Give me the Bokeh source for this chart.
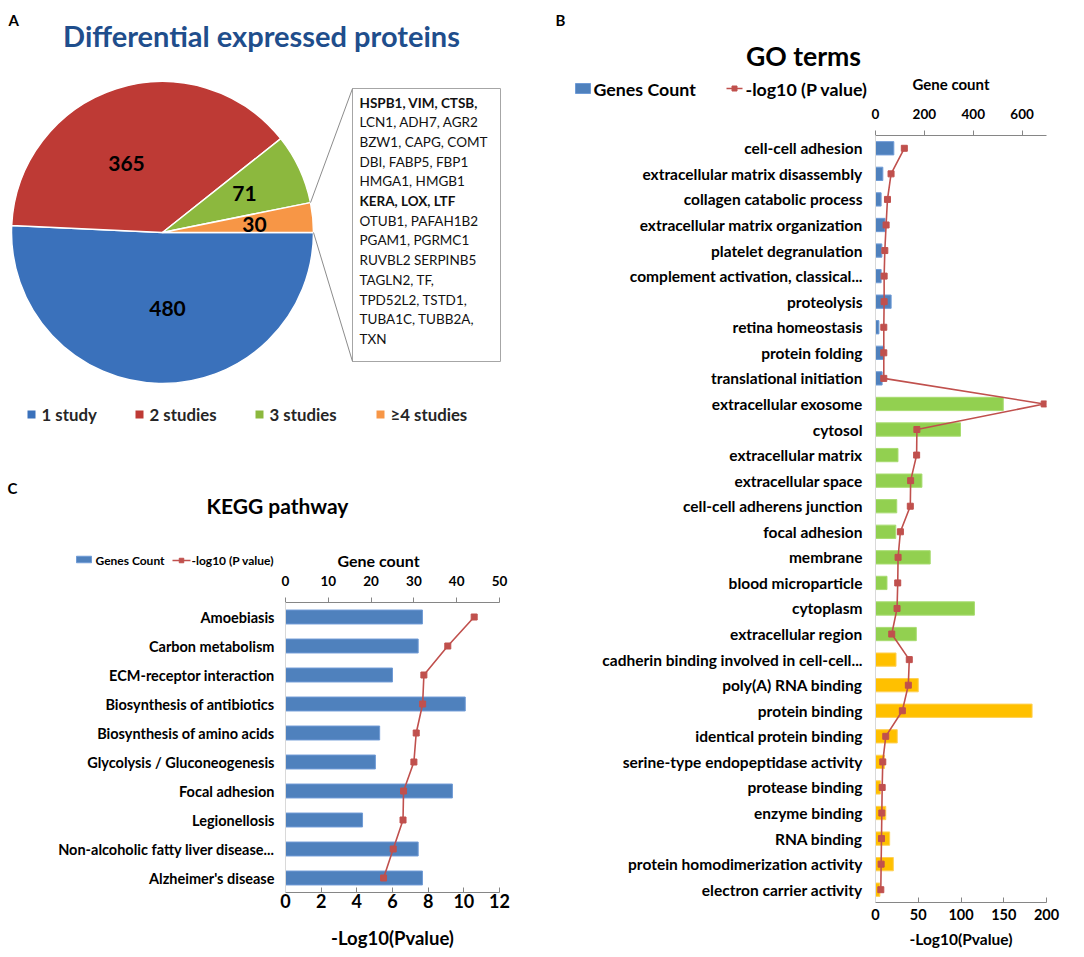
import numpy as np
from bokeh.plotting import figure
from bokeh.models import Range1d, FactorRange, LinearAxis, FixedTicker, ColumnDataSource
from bokeh.embed import file_html
from bokeh.resources import INLINE
from bokeh.core.properties import value

FONT = "Lato"

# ---------------- Panel A data ----------------
study_labels = ["1 study", "2 studies", "3 studies", "\u22654 studies"]
study_counts = [480, 365, 71, 30]
study_colors = ["#3a71bb", "#be3a35", "#8cb83e", "#f79646"]
gene_lines = ["HSPB1, VIM, CTSB,", "LCN1, ADH7, AGR2", "BZW1, CAPG, COMT",
              "DBI, FABP5, FBP1", "HMGA1, HMGB1", "KERA, LOX, LTF",
              "OTUB1, PAFAH1B2", "PGAM1, PGRMC1", "RUVBL2 SERPINB5",
              "TAGLN2, TF,", "TPD52L2, TSTD1,", "TUBA1C, TUBB2A,", "TXN"]
gene_bold = [True, False, False, False, False, True, False, False, False,
             False, False, False, False]

# ---------------- Panel B data ----------------
bp_terms = ["cell-cell adhesion", "extracellular matrix disassembly",
            "collagen catabolic process", "extracellular matrix organization",
            "platelet degranulation", "complement activation, classical...",
            "proteolysis", "retina homeostasis", "protein folding",
            "translational initiation"]
bp_counts = [75, 30, 23, 39, 26, 23, 64, 14, 34, 27]
bp_pvals = [33.7, 18.2, 14.0, 12.4, 10.9, 10.1, 10.1, 9.7, 9.7, 9.7]

cc_terms = ["extracellular exosome", "cytosol", "extracellular matrix",
            "extracellular space", "cell-cell adherens junction",
            "focal adhesion", "membrane", "blood microparticle", "cytoplasm",
            "extracellular region"]
cc_counts = [523, 348, 92, 190, 87, 83, 224, 47, 405, 167]
cc_pvals = [197.3, 48.4, 48.1, 41.1, 40.7, 29.1, 26.4, 26.0, 25.2, 19.0]

mf_terms = ["cadherin binding involved in cell-cell...", "poly(A) RNA binding",
            "protein binding", "identical protein binding",
            "serine-type endopeptidase activity", "protease binding",
            "enzyme binding", "RNA binding",
            "protein homodimerization activity", "electron carrier activity"]
mf_counts = [84, 175, 641, 89, 37, 20, 42, 58, 73, 18]
mf_pvals = [39.5, 38.4, 31.4, 12.0, 8.5, 7.8, 7.4, 7.0, 6.6, 6.2]

go_count_ticks = [0, 200, 400, 600]
go_p_ticks = [0, 50, 100, 150, 200]

# ---------------- Panel C data ----------------
kegg_terms = ["Amoebiasis", "Carbon metabolism", "ECM-receptor interaction",
              "Biosynthesis of antibiotics", "Biosynthesis of amino acids",
              "Glycolysis / Gluconeogenesis", "Focal adhesion", "Legionellosis",
              "Non-alcoholic fatty liver disease...", "Alzheimer's disease"]
kegg_counts = [32, 31, 25, 42, 22, 21, 39, 18, 31, 32]
kegg_pvals = [10.58, 9.10, 7.76, 7.69, 7.33, 7.20, 6.62, 6.59, 6.04, 5.50]

kegg_count_ticks = [0, 10, 20, 30, 40, 50]
kegg_p_ticks = [0, 2, 4, 6, 8, 10, 12]

BAR_BLUE, BAR_BLUE_LINE = "#4f81bd", "#6f9bd6"
BAR_GREEN, BAR_GREEN_LINE = "#92d050", "#a8dc70"
BAR_ORANGE, BAR_ORANGE_LINE = "#ffc000", "#ffd055"
LINE_RED = "#c0504d"
AXIS_GRAY = "#868686"


def place(left, top):
    return {"position": "absolute", "left": f"{left}px", "top": f"{top}px"}


def make_bar_panel(terms, width, height, left, top, borders, p_max, count_max,
                   count_ticks, p_ticks, fonts, stand):
    bl, br, bt, bb = borders
    p = figure(width=width, height=height, x_range=Range1d(0, p_max),
               y_range=FactorRange(factors=list(reversed(terms)), range_padding=0),
               x_axis_location=None, output_backend="svg", toolbar_location=None,
               min_border_left=bl, min_border_right=br, min_border_top=bt,
               min_border_bottom=bb, styles=place(left, top))
    p.extra_x_ranges = {"gene": Range1d(0, count_max)}
    p.grid.visible = False
    p.outline_line_color = None
    top_ax = LinearAxis(x_range_name="gene", ticker=FixedTicker(ticks=count_ticks))
    bot_ax = LinearAxis(ticker=FixedTicker(ticks=p_ticks), axis_label="-Log10(Pvalue)")
    p.add_layout(top_ax, "above")
    p.add_layout(bot_ax, "below")
    for ax in (top_ax, bot_ax):
        ax.axis_line_color = AXIS_GRAY
        ax.major_tick_line_color = AXIS_GRAY
        ax.minor_tick_line_color = None
        ax.major_label_text_font = FONT
        ax.major_label_text_font_style = "bold"
        ax.major_label_text_color = "black"
        ax.axis_label_text_font = FONT
        ax.axis_label_text_font_style = "bold"
        ax.axis_label_text_color = "black"
    top_ax.major_tick_out, top_ax.major_tick_in = 5, 0
    bot_ax.major_tick_out, bot_ax.major_tick_in = 0, 5
    ttop, tbot, lbot, yfont = fonts
    st_top, st_bot, lst_bot, ystand = stand
    top_ax.major_label_text_font_size = ttop
    bot_ax.major_label_text_font_size = tbot
    bot_ax.axis_label_text_font_size = lbot
    top_ax.major_label_standoff, bot_ax.major_label_standoff = st_top, st_bot
    bot_ax.axis_label_standoff = lst_bot
    ya = p.yaxis[0]
    ya.axis_line_color = "#d9d9d9"
    ya.major_tick_line_color = None
    ya.minor_tick_line_color = None
    ya.major_tick_out = 0
    ya.major_tick_in = 0
    ya.major_label_text_font = FONT
    ya.major_label_text_font_style = "bold"
    ya.major_label_text_font_size = yfont
    ya.major_label_text_color = "black"
    ya.major_label_standoff = ystand
    return p


# =============== Panel C (KEGG) ===============
pC = make_bar_panel(kegg_terms, 540, 487, 0, 470, (285, 41, 132, 65), 12, 50,
                    kegg_count_ticks, kegg_p_ticks,
                    ("13.5px", "18px", "18.5px", "14.5px"),
                    (12, 1, 16, 11))
pC.hbar(y=kegg_terms, left=0, right=kegg_counts, height=0.48, x_range_name="gene",
        fill_color=BAR_BLUE, line_color=BAR_BLUE_LINE, line_width=1)
pC.line(x=kegg_pvals, y=kegg_terms, line_color=LINE_RED, line_width=1.6)
pC.scatter(x=kegg_pvals, y=kegg_terms, marker="square", size=6,
           fill_color=LINE_RED, line_color=LINE_RED)

# =============== Panel B (GO) ===============
go_terms = bp_terms + cc_terms + mf_terms
go_pvals = bp_pvals + cc_pvals + mf_pvals
pB = make_bar_panel(go_terms, 544, 957, 540, 0, (335, 38, 135, 55), 200, 700,
                    go_count_ticks, go_p_ticks,
                    ("13.5px", "14.5px", "15.5px", "15.5px"),
                    (12, 6, 7, 13))
for terms, counts, fc, lc in ((bp_terms, bp_counts, BAR_BLUE, BAR_BLUE_LINE),
                              (cc_terms, cc_counts, BAR_GREEN, BAR_GREEN_LINE),
                              (mf_terms, mf_counts, BAR_ORANGE, BAR_ORANGE_LINE)):
    pB.hbar(y=terms, left=0, right=counts, height=0.52, x_range_name="gene",
            fill_color=fc, line_color=lc, line_width=1)
pB.line(x=go_pvals, y=go_terms, line_color=LINE_RED, line_width=1.6)
pB.scatter(x=go_pvals, y=go_terms, marker="square", size=6,
           fill_color=LINE_RED, line_color=LINE_RED)

# =============== Overlay: panel A, titles, legends ===============
pO = figure(width=1084, height=957, x_range=Range1d(0, 1084), y_range=Range1d(-957, 0),
            output_backend="svg", toolbar_location=None, min_border=0,
            x_axis_location=None, y_axis_location=None, styles=place(0, 0))
pO.grid.visible = False
pO.outline_line_color = None
pO.background_fill_alpha = 0
pO.border_fill_alpha = 0


def txt(x, y, s, size, bold=True, color="black", align="left"):
    pO.text(x=[x], y=[-y], text=[s], text_font=value(FONT),
            text_font_style="bold" if bold else "normal", text_font_size=size,
            text_color=color, text_align=align, text_baseline="middle")


# pie
cx, cy, r = 162, -232, 151
total = float(sum(study_counts))
fr = np.array(study_counts) / total * 2 * np.pi
cum = np.cumsum(fr)
src = ColumnDataSource(dict(start=2 * np.pi - cum, end=2 * np.pi - (cum - fr),
                            color=study_colors))
pO.wedge(x=cx, y=cy, radius=r, start_angle="start", end_angle="end",
         fill_color="color", line_color="white", line_width=1.5, source=src)
val_pos = [(167, 308), (126, 163), (244, 193), (254, 224)]
for (vx, vy), v in zip(val_pos, study_counts):
    txt(vx, vy, str(v), "21px", align="center")

# gene box with connectors from the smallest slice
pO.quad(left=352, right=500, top=-88, bottom=-361, fill_color="white",
        line_color="#a6a6a6", line_width=1)
a_top = fr[3]
pO.segment(x0=[352, 352], y0=[-88, -361],
           x1=[cx + r * np.cos(a_top), cx + r], y1=[cy + r * np.sin(a_top), cy],
           line_color="#8c8c8c", line_width=1)
for i, (s, b) in enumerate(zip(gene_lines, gene_bold)):
    txt(359, 102.3 + 19.67 * i, s, "13.5px", bold=b, color="#111111")

txt(261, 35, "Differential expressed proteins", "29px", color="#1f4e8c", align="center")
txt(8, 19, "A", "15px")

leg_sq_x = [31, 139, 259, 380]
pO.rect(x=leg_sq_x, y=[-414] * 4, width=8, height=8, fill_color=study_colors, line_color=None)
for x, s in zip(leg_sq_x, study_labels):
    txt(x + 10, 414, s, "16.8px", color="#262626")

# panel B header
txt(555, 19, "B", "15px")
txt(803, 55, "GO terms", "26.6px", align="center")
pO.rect(x=[582.5], y=[-88], width=15, height=10, fill_color=BAR_BLUE, line_color=BAR_BLUE_LINE)
txt(593, 88, "Genes Count", "17.8px")
pO.line(x=[726, 742], y=[-88, -88], line_color=LINE_RED, line_width=1.6)
pO.scatter(x=[734], y=[-88], marker="square", size=5, fill_color=LINE_RED, line_color=LINE_RED)
txt(745, 88, "-log10 (P value)", "17.8px")
txt(950.5, 83, "Gene count", "15px", align="center")

# panel C header
txt(7, 487, "C", "15px")
txt(277, 505, "KEGG pathway", "21px", align="center")
pO.rect(x=[83.5], y=[-559], width=15, height=6.5, fill_color=BAR_BLUE, line_color=BAR_BLUE_LINE)
txt(95, 560, "Genes Count", "12px")
pO.line(x=[172, 190], y=[-560, -560], line_color=LINE_RED, line_width=1.4)
pO.scatter(x=[181], y=[-560], marker="square", size=4.5, fill_color=LINE_RED, line_color=LINE_RED)
txt(191, 560, "-log10 (P value)", "12px")
txt(378, 560, "Gene count", "16px", align="center")

open("out.html", "w").write(file_html([pC, pB, pO], INLINE))
